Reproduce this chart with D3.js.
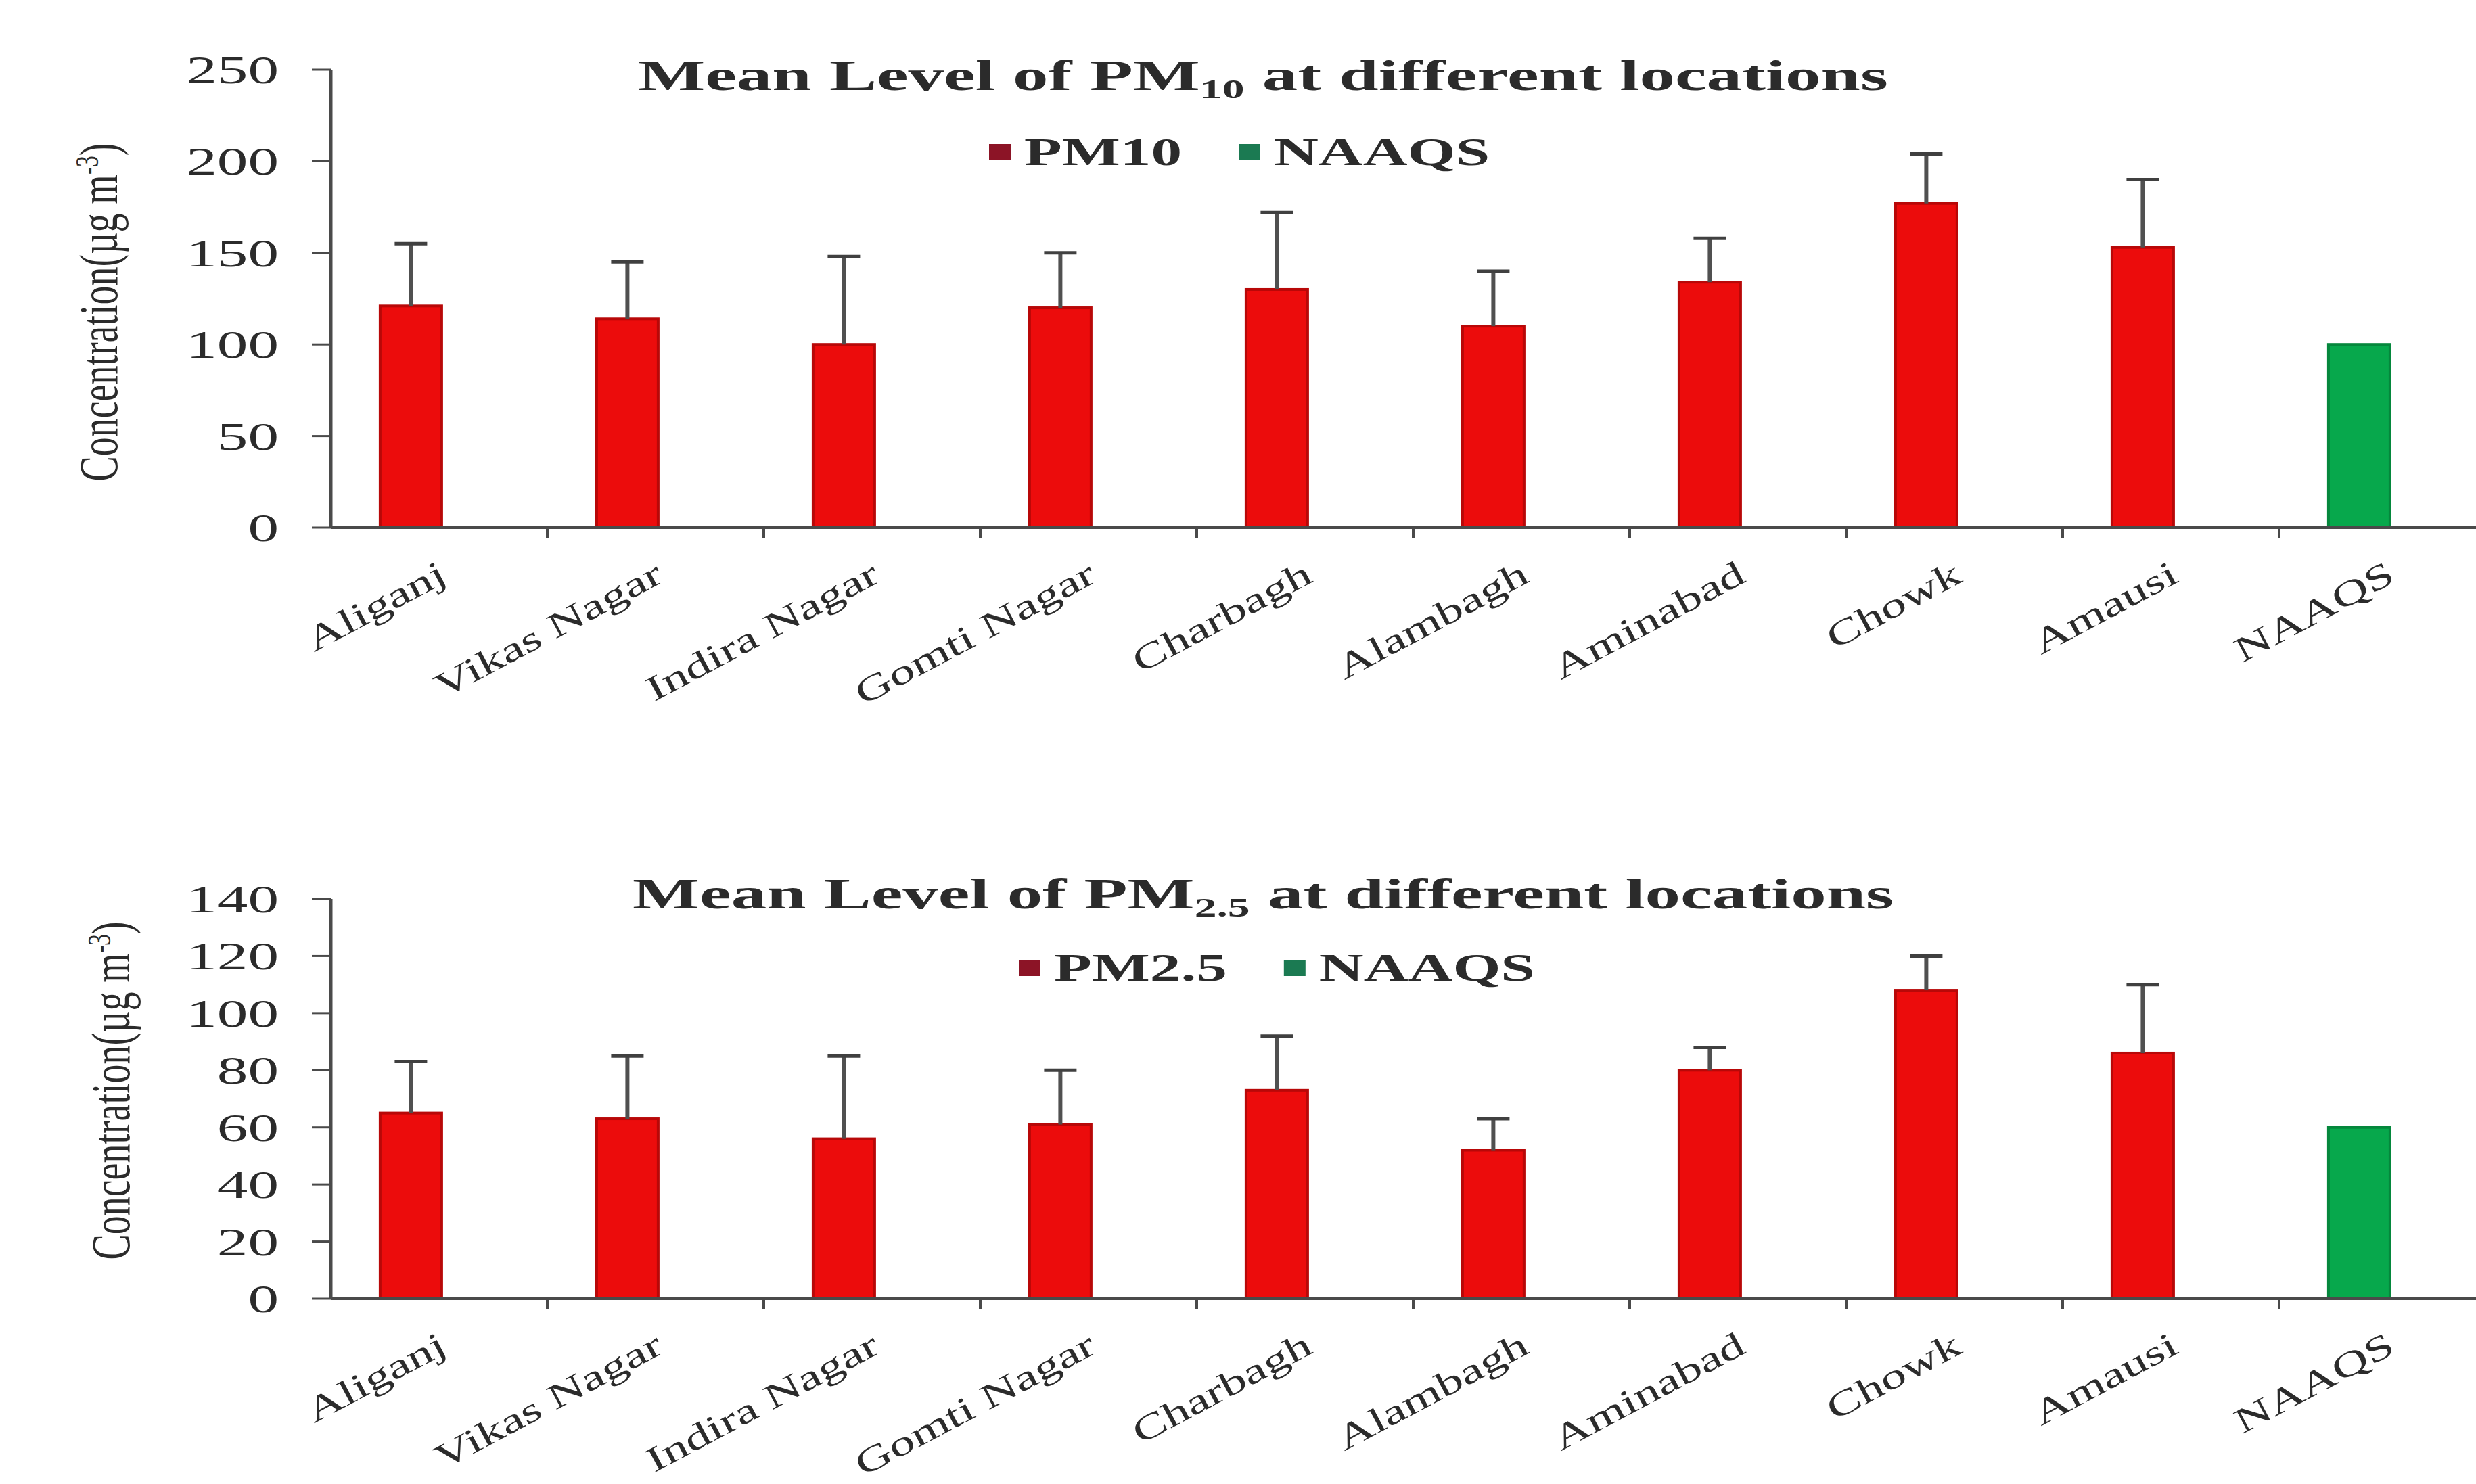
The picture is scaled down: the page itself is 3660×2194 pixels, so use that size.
<!DOCTYPE html>
<html>
<head>
<meta charset="utf-8">
<script src="https://cdn.jsdelivr.net/npm/d3@7"></script>
<style>
  body { margin: 0; background: #fff; }
  svg { display: block; }
  text { font-family: "Liberation Serif", "Times New Roman", serif; fill: #2b2b2b; }
</style>
</head>
<body>
<svg id="chart" width="3660" height="2194"></svg>
<script>
const locations = ['Aliganj', 'Vikas Nagar', 'Indira Nagar', 'Gomti Nagar', 'Charbagh',
    'Alambagh', 'Aminabad', 'Chowk', 'Amausi', 'NAAQS'];

// mean and standard deviation
const pm10Mean = [121, 114, 100, 120, 130, 110, 134, 177, 153, 100];
const pm10Sd = [34, 31, 48, 30, 42, 30, 24, 27, 37, 0];
const pm25Mean = [65, 63, 56, 61, 73, 52, 80, 108, 86, 60];
const pm25Sd = [18, 22, 29, 19, 19, 11, 8, 12, 24, 0];

const pm10Ticks = [0, 50, 100, 150, 200, 250];
const pm25Ticks = [0, 20, 40, 60, 80, 100, 120, 140];

const red = '#ec0c0c';
const green = '#07a84c';

// the original picture is stretched sideways; widen the glyphs to match
const stretch = 1.6;

const svg = d3.select('#chart');

const x = d3.scaleBand()
    .domain(locations)
    .range([489, 3689]);

const barWidth = 91;
const barPos = 0.37; // bars sit a bit left of the middle of each category

function widen(sel, factor) {
    sel.each(function () {
        const len = this.getComputedTextLength();
        d3.select(this)
            .attr('textLength', len * factor)
            .attr('lengthAdjust', 'spacingAndGlyphs');
    });
    return sel;
}

function drawPanel(cfg) {
    const g = svg.append('g');

    const y = d3.scaleLinear()
        .domain([0, cfg.max])
        .range([cfg.bottom, cfg.top]);

    const x0 = x.range()[0];
    const cx = (loc) => x(loc) + x.bandwidth() * barPos;

    // title with subscript
    const title = g.append('text')
        .attr('x', 1867)
        .attr('y', cfg.titleY)
        .attr('text-anchor', 'middle')
        .attr('font-size', 64)
        .attr('font-weight', 'bold');
    title.append('tspan').text('Mean Level of PM');
    title.append('tspan').attr('font-size', 40).attr('dy', 12).text(cfg.sub);
    title.append('tspan').attr('dy', -12).text(' at different locations');
    widen(title, 1.64);

    // legend
    let lx = cfg.legendX;
    [[cfg.series, '#8c1426'], ['NAAQS', '#1b7a52']].forEach(([name, mark]) => {
        g.append('rect')
            .attr('x', lx)
            .attr('y', cfg.legendY - 31)
            .attr('width', 32)
            .attr('height', 24)
            .attr('fill', mark);
        const t = g.append('text')
            .attr('x', lx + 52)
            .attr('y', cfg.legendY)
            .attr('font-size', 57)
            .attr('font-weight', 'bold')
            .text(name);
        const w = t.node().getComputedTextLength() * stretch;
        widen(t, stretch);
        lx += 52 + w + 84;
    });

    // y axis
    g.append('line')
        .attr('x1', x0).attr('x2', x0)
        .attr('y1', y(0)).attr('y2', y(cfg.max))
        .attr('stroke', '#4a4a4a').attr('stroke-width', 5);

    cfg.ticks.forEach((t) => {
        g.append('line')
            .attr('x1', x0 - 28).attr('x2', x0)
            .attr('y1', y(t)).attr('y2', y(t))
            .attr('stroke', '#4a4a4a').attr('stroke-width', 3);
        const lab = g.append('text')
            .attr('x', x0 - 77)
            .attr('y', y(t))
            .attr('dy', '0.35em')
            .attr('text-anchor', 'end')
            .attr('font-size', 57)
            .text(t);
        widen(lab, stretch);
    });

    // y label: tall glyphs, squeezed to the length they have in the picture
    const yl = g.append('text')
        .attr('transform', `translate(${cfg.labelX}, ${(cfg.top + cfg.bottom) / 2 + cfg.labelShift}) rotate(-90)`)
        .attr('text-anchor', 'middle')
        .attr('dy', '0.35em')
        .attr('font-size', 80);
    yl.append('tspan').text('Concentration(µg m');
    yl.append('tspan').attr('font-size', 48).attr('dy', -28).text('-3');
    yl.append('tspan').attr('dy', 28).text(')');
    yl.attr('textLength', 500).attr('lengthAdjust', 'spacingAndGlyphs');

    // bars
    const data = locations.map((loc, i) => ({ loc, mean: cfg.mean[i], sd: cfg.sd[i] }));

    const bars = g.selectAll('.bar')
        .data(data)
        .enter()
        .append('g');

    bars.append('rect')
        .attr('x', (d) => cx(d.loc) - barWidth / 2)
        .attr('y', (d) => y(d.mean))
        .attr('width', barWidth)
        .attr('height', (d) => y(0) - y(d.mean))
        .attr('fill', (d) => d.loc === 'NAAQS' ? green : red)
        .attr('stroke', (d) => d.loc === 'NAAQS' ? '#05873c' : '#b80808')
        .attr('stroke-width', 4);

    // error bars (upper half only, like the original)
    const err = bars.filter((d) => d.sd > 0);
    err.append('line')
        .attr('x1', (d) => cx(d.loc))
        .attr('x2', (d) => cx(d.loc))
        .attr('y1', (d) => y(d.mean))
        .attr('y2', (d) => y(d.mean + d.sd))
        .attr('stroke', '#505050')
        .attr('stroke-width', 6);
    err.append('line')
        .attr('x1', (d) => cx(d.loc) - 24)
        .attr('x2', (d) => cx(d.loc) + 24)
        .attr('y1', (d) => y(d.mean + d.sd))
        .attr('y2', (d) => y(d.mean + d.sd))
        .attr('stroke', '#404040')
        .attr('stroke-width', 5);

    // x axis
    g.append('line')
        .attr('x1', x0).attr('x2', x.range()[1])
        .attr('y1', y(0)).attr('y2', y(0))
        .attr('stroke', '#4a4a4a').attr('stroke-width', 4);

    locations.forEach((loc) => {
        g.append('line')
            .attr('x1', x(loc) + x.bandwidth()).attr('x2', x(loc) + x.bandwidth())
            .attr('y1', y(0)).attr('y2', y(0) + 16)
            .attr('stroke', '#4a4a4a').attr('stroke-width', 4);
    });

    const labels = g.selectAll('.xlabel')
        .data(locations)
        .enter()
        .append('text')
        .attr('transform', (d) => `translate(${x(d) + x.bandwidth() / 2 - 4}, ${y(0) + 46}) rotate(-28)`)
        .attr('text-anchor', 'end')
        .attr('dy', '0.72em')
        .attr('font-size', 52)
        .text((d) => d);
    widen(labels, 1.44);
}

drawPanel({
    mean: pm10Mean, sd: pm10Sd, ticks: pm10Ticks, max: 250,
    top: 103, bottom: 780, sub: '10', series: 'PM10',
    titleY: 133, legendX: 1462, legendY: 244, labelX: 145, labelShift: 20
});

drawPanel({
    mean: pm25Mean, sd: pm25Sd, ticks: pm25Ticks, max: 140,
    top: 1329, bottom: 1920, sub: '2.5', series: 'PM2.5',
    titleY: 1343, legendX: 1506, legendY: 1450, labelX: 163, labelShift: -12
});
</script>
</body>
</html>
